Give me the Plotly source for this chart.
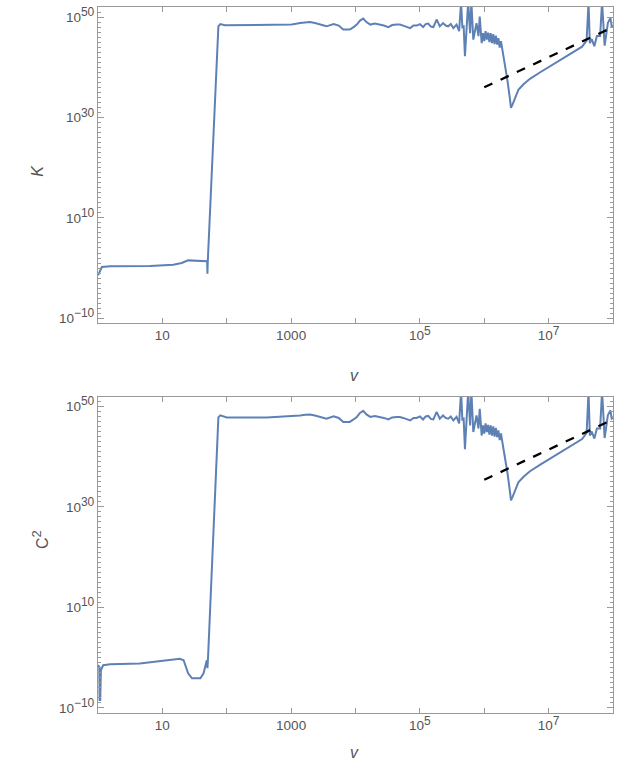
import numpy as np
import plotly.graph_objects as go

# ---- data (log10 values) ----
k_logv = [0.00, 0.06, 0.19, 0.81, 1.17, 1.30, 1.40, 1.59, 1.67, 1.695, 1.70, 1.705,
          1.87, 1.90, 1.97, 2.62, 3.01, 3.14, 3.22, 3.29, 3.37, 3.45, 3.55, 3.66, 3.74,
          3.81, 3.91, 3.97, 4.02, 4.07, 4.12, 4.17, 4.23, 4.30, 4.38, 4.44, 4.51, 4.57,
          4.64, 4.69, 4.74, 4.80, 4.85, 4.90, 4.95, 5.00, 5.05, 5.09, 5.13, 5.17, 5.21,
          5.26, 5.31, 5.36, 5.40, 5.44, 5.48, 5.52, 5.57, 5.61, 5.64, 5.66, 5.68, 5.70,
          5.73, 5.75, 5.78, 5.80, 5.83, 5.86, 5.88, 5.91, 5.93, 5.96, 5.98, 6.00, 6.02,
          6.04, 6.06, 6.08, 6.10, 6.12, 6.14, 6.16, 6.18, 6.20, 6.22, 6.24, 6.26, 6.28,
          6.30, 6.33, 6.36, 6.40, 6.415, 6.44, 6.48, 6.53, 6.61, 6.71, 6.87, 7.02, 7.18,
          7.30, 7.44, 7.52, 7.59, 7.62, 7.64, 7.67, 7.71, 7.75, 7.80, 7.83, 7.87, 7.90,
          7.92, 7.96, 7.98, 8.00]
k_logK = [-1.45, 0.20, 0.34, 0.40, 0.65, 1.00, 1.53, 1.45, 1.39, 1.35, -1.13, 1.20,
          48.15, 48.60, 48.35, 48.35, 48.50, 48.80, 48.95, 49.00, 48.80, 48.50, 48.15, 48.60, 48.30,
          47.50, 47.50, 48.00, 48.50, 49.30, 49.70, 49.00, 48.50, 48.70, 48.50, 48.30, 48.00, 48.40,
          48.50, 48.50, 48.30, 48.00, 47.80, 48.30, 48.30, 48.60, 48.00, 48.60, 48.70, 48.10, 48.00,
          49.50, 48.15, 48.80, 48.30, 48.15, 48.60, 47.80, 48.50, 47.20, 53.00, 48.00, 48.15, 42.20,
          48.80, 53.00, 46.80, 53.00, 45.50, 47.50, 48.80, 46.20, 50.10, 44.80, 46.80, 45.20, 47.20,
          45.50, 46.90, 45.00, 46.80, 44.80, 46.60, 44.60, 46.30, 44.50, 45.80, 43.90, 45.20, 43.60,
          42.00, 40.20, 37.40, 33.60, 31.90, 32.60, 33.90, 35.50, 36.60, 37.70, 39.00, 40.20, 41.50,
          42.40, 43.50, 44.10, 45.30, 53.00, 44.80, 45.60, 44.20, 46.20, 46.20, 53.00, 44.30, 46.80,
          48.80, 49.80, 48.15, 48.30]

c_logv = [0.00, 0.02, 0.025, 0.035, 0.045, 0.08, 0.19, 0.65, 1.27, 1.33, 1.40, 1.46,
          1.59, 1.64, 1.69, 1.70, 1.71,
          1.87, 1.90, 2.00, 2.62, 3.01, 3.14, 3.22, 3.29, 3.37, 3.45, 3.55, 3.66, 3.74,
          3.81, 3.91, 3.97, 4.02, 4.07, 4.12, 4.17, 4.23, 4.30, 4.38, 4.44, 4.51, 4.57,
          4.64, 4.69, 4.74, 4.80, 4.85, 4.90, 4.95, 5.00, 5.05, 5.09, 5.13, 5.17, 5.21,
          5.26, 5.31, 5.36, 5.40, 5.44, 5.48, 5.52, 5.57, 5.61, 5.64, 5.66, 5.68, 5.70,
          5.73, 5.75, 5.78, 5.80, 5.83, 5.86, 5.88, 5.91, 5.93, 5.96, 5.98, 6.00, 6.02,
          6.04, 6.06, 6.08, 6.10, 6.12, 6.14, 6.16, 6.18, 6.20, 6.22, 6.24, 6.26, 6.28,
          6.30, 6.33, 6.36, 6.40, 6.415, 6.44, 6.48, 6.53, 6.61, 6.71, 6.87, 7.02, 7.18,
          7.30, 7.44, 7.52, 7.59, 7.62, 7.64, 7.67, 7.71, 7.75, 7.80, 7.83, 7.87, 7.90,
          7.92, 7.96, 7.98, 8.00]
c_logC2 = [-1.5, -1.8, -8.4, -8.4, -2.5, -1.5, -1.3, -1.15, -0.2, -0.5, -3.1, -4.1,
           -4.1, -3.1, -0.5, -2.1, 0.2,
           47.8, 48.2, 47.8, 47.8, 48.0, 48.2, 48.35, 48.4, 48.2, 47.9, 47.55, 48.0, 47.7,
           46.9, 46.9, 47.4, 47.9, 48.7, 49.1, 48.4, 47.9, 48.1, 47.9, 47.7, 47.4, 47.8,
           47.9, 47.9, 47.7, 47.4, 47.2, 47.7, 47.7, 48.0, 47.4, 48.0, 48.1, 47.5, 47.4,
           48.9, 47.55, 48.2, 47.7, 47.55, 48.0, 47.2, 47.9, 46.6, 53.0, 47.4, 47.55, 41.5,
           48.2, 53.0, 46.2, 53.0, 44.9, 46.9, 48.2, 45.6, 49.5, 44.2, 46.2, 44.6, 46.6,
           44.9, 46.3, 44.4, 46.2, 44.2, 46.0, 44.0, 45.7, 43.9, 45.2, 43.3, 44.6, 43.0,
           41.4, 39.6, 36.8, 33.0, 31.3, 32.0, 33.3, 34.9, 36.0, 37.1, 38.4, 39.6, 40.9,
           41.8, 42.9, 43.5, 44.7, 53.0, 44.2, 45.0, 43.6, 45.6, 45.6, 53.0, 43.7, 46.2,
           48.2, 49.2, 47.55, 47.7]

fit_logv = [6.0, 8.0]
fit_top_log = [36.0, 48.0]
fit_bot_log = [35.4, 47.4]

x_tickvals = [10, 1000, 1e5, 1e7]
x_ticktext = ["10", "1000", "10<sup><span style='font-size:12px'>5</span></sup>",
              "10<sup><span style='font-size:12px'>7</span></sup>"]
x_minorvals = [100, 1e4, 1e6]
y_tickvals = [1e-10, 1e10, 1e30, 1e50]
y_ticktext = ["10<sup><span style='font-size:12px'>\u221210</span></sup>",
              "10<sup><span style='font-size:12px'>10</span></sup>",
              "10<sup><span style='font-size:12px'>30</span></sup>",
              "10<sup><span style='font-size:12px'>50</span></sup>"]

# ---- figure ----
LINE = "#5E81B5"
GRAY = "#999999"
TXT = "#555555"
FONT = "Liberation Sans"

fig = go.Figure()
fig.add_trace(go.Scatter(x=10 ** np.array(k_logv), y=10 ** np.array(k_logK), mode="lines",
                         line=dict(color=LINE, width=2), xaxis="x", yaxis="y", showlegend=False))
fig.add_trace(go.Scatter(x=10 ** np.array(fit_logv), y=10 ** np.array(fit_top_log), mode="lines",
                         line=dict(color="black", width=2.3, dash="dash"), xaxis="x", yaxis="y",
                         showlegend=False))
fig.add_trace(go.Scatter(x=10 ** np.array(c_logv), y=10 ** np.array(c_logC2), mode="lines",
                         line=dict(color=LINE, width=2), xaxis="x2", yaxis="y2", showlegend=False))
fig.add_trace(go.Scatter(x=10 ** np.array(fit_logv), y=10 ** np.array(fit_bot_log), mode="lines",
                         line=dict(color="black", width=2.3, dash="dash"), xaxis="x2", yaxis="y2",
                         showlegend=False))

minor_y = [10.0 ** i for i in range(-11, 53)]

def xax(anchor):
    return dict(type="log", range=[0, 8], domain=[0, 1], anchor=anchor,
                tickvals=x_tickvals, ticktext=x_ticktext, ticks="inside", ticklen=5,
                tickcolor=GRAY, showline=True, linecolor=GRAY, linewidth=1, mirror="ticks",
                showgrid=False, zeroline=False, tickfont=dict(family=FONT, size=13.5, color=TXT),
                minor=dict(tickvals=x_minorvals, ticks="inside", ticklen=5, tickcolor=GRAY,
                           showgrid=False))

def yax(anchor, dom, rng):
    return dict(type="log", range=rng, domain=dom, anchor=anchor,
                tickvals=y_tickvals, ticktext=y_ticktext, ticks="inside", ticklen=6,
                tickcolor=GRAY, showline=True, linecolor=GRAY, linewidth=1, mirror="ticks",
                showgrid=False, zeroline=False, tickfont=dict(family=FONT, size=13.5, color=TXT),
                minor=dict(tickvals=minor_y, ticks="inside", ticklen=3, tickcolor=GRAY, showgrid=False))

fig.update_layout(
    width=631, height=776,
    margin=dict(l=98, r=18, t=4, b=63),
    plot_bgcolor="white", paper_bgcolor="white",
    xaxis=xax("y"),
    yaxis=yax("x", [0.552, 1.0], [-11, 52]),
    xaxis2=xax("y2"),
    yaxis2=yax("x2", [0.0, 0.4475], [-11, 51.85]),
    annotations=[
        dict(text="<i>v</i>", x=0.499, y=0.478, xref="paper", yref="paper", showarrow=False,
             font=dict(family=FONT, size=16, color=TXT)),
        dict(text="<i>v</i>", x=0.499, y=-0.071, xref="paper", yref="paper", showarrow=False,
             font=dict(family=FONT, size=16, color=TXT)),
        dict(text="<i>K</i>", x=-0.138, y=0.78, xref="paper", yref="paper", showarrow=False,
             textangle=-90, font=dict(family=FONT, size=16, color=TXT)),
        dict(text="C<sup><span style='font-size:13px'>2</span></sup>", x=-0.138, y=0.23,
             xref="paper", yref="paper", showarrow=False,
             textangle=-90, font=dict(family=FONT, size=16, color=TXT)),
    ],
)

fig.write_html("out.html", config={"displayModeBar": False},
               post_script="document.body.style.margin='0';")
